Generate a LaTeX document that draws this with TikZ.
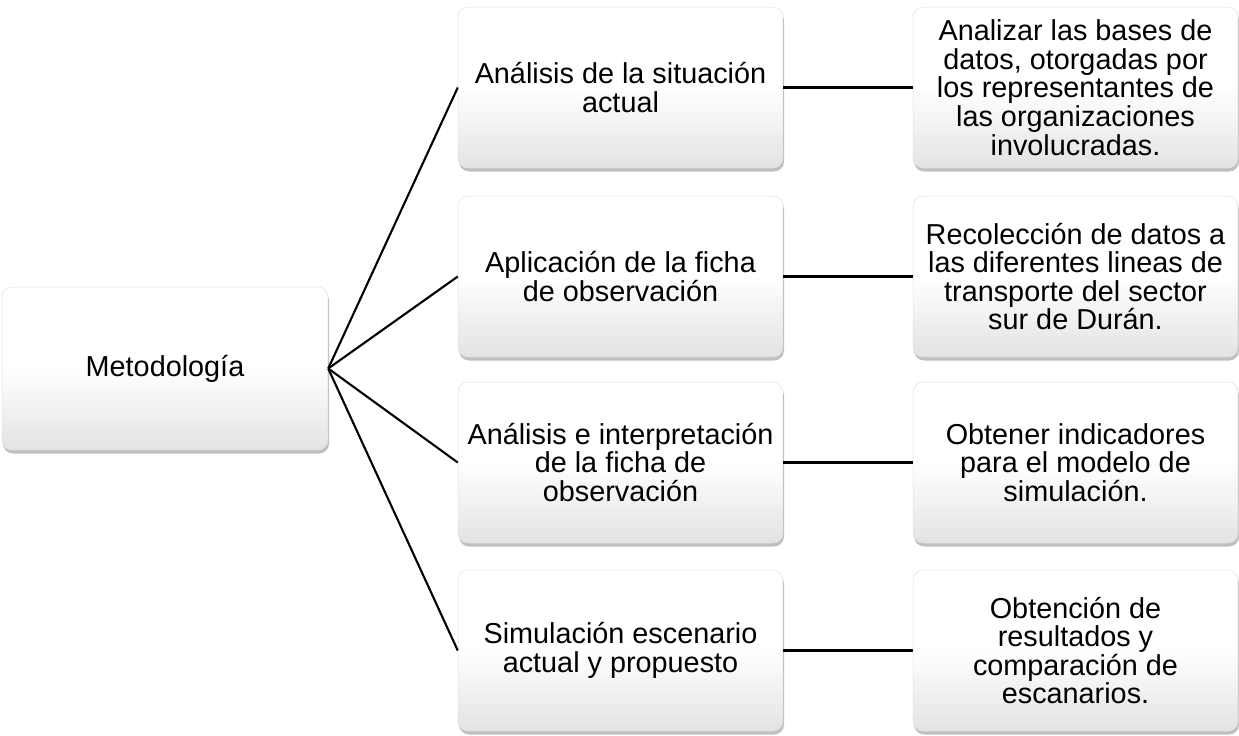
\documentclass[tikz,border=0pt]{standalone}
\usepackage{fontspec}
\setmainfont{Liberation Sans}
\usetikzlibrary{shadows}
\begin{document}
\begin{tikzpicture}[x=0.02cm,y=-0.02cm,
    caja/.style={draw=black!12,line width=.3pt,rounded corners=0.2cm,
        top color=white,bottom color=black!11,middle color=white,
        drop shadow={shadow xshift=.6pt,shadow yshift=-2pt,opacity=.5},
        minimum width=6.5cm,minimum height=3.22cm,align=center,
        font=\fontsize{16.4}{16.3}\selectfont,inner sep=2pt},
    rama/.style={line width=1.2pt}]
    \useasboundingbox (0,0) rectangle (1239,735);
    \node[caja,minimum width=6.52cm,minimum height=3.26cm] (met) at (165,368.5) {Metodología};
    \node[caja] (a1) at (620.5,87.5) {Análisis de la situación\\actual};
    \node[caja] (a2) at (620.5,276.5) {Aplicación de la ficha\\de observación};
    \node[caja] (a3) at (620.5,462.5) {Análisis e interpretación\\de la ficha de\\observación};
    \node[caja] (a4) at (620.5,650.5) {Simulación escenario\\actual y propuesto};
    \node[caja] (b1) at (1075.5,87.5) {Analizar las bases de\\datos, otorgadas por\\los representantes de\\las organizaciones\\involucradas.};
    \node[caja] (b2) at (1075.5,276.5) {Recolección de datos a\\las diferentes lineas de\\transporte del sector\\sur de Durán.};
    \node[caja] (b3) at (1075.5,462.5) {Obtener indicadores\\para el modelo de\\simulación.};
    \node[caja] (b4) at (1075.5,650.5) {Obtención de\\resultados y\\comparación de\\escanarios.};
    \draw[rama] (met.east)--(a1.west);
    \draw[rama] (met.east)--(a2.west);
    \draw[rama] (met.east)--(a3.west);
    \draw[rama] (met.east)--(a4.west);
    \draw[rama] (a1.east)--(b1.west);
    \draw[rama] (a2.east)--(b2.west);
    \draw[rama] (a3.east)--(b3.west);
    \draw[rama] (a4.east)--(b4.west);
\end{tikzpicture}
\end{document}
